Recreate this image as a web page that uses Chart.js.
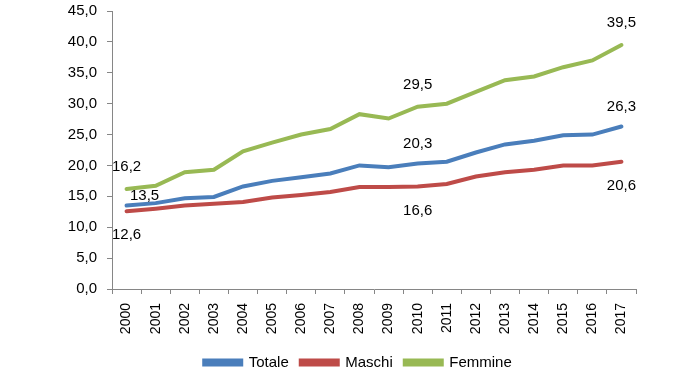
<!DOCTYPE html>
<html>
<head>
<meta charset="utf-8">
<script src="https://cdn.jsdelivr.net/npm/chart.js@4.4.0/dist/chart.umd.min.js"></script>
<style>
html,body{margin:0;padding:0;background:#fff;}
#wrap{width:700px;height:381px;position:relative;}
</style>
</head>
<body>
<div id="wrap"><canvas id="c" width="700" height="381"></canvas></div>
<script>
const years = ['2000','2001','2002','2003','2004','2005','2006','2007','2008','2009','2010','2011','2012','2013','2014','2015','2016','2017'];
const totale  = [13.5,13.9,14.7,14.9,16.6,17.5,18.1,18.7,20.0,19.7,20.3,20.6,22.1,23.4,24.0,24.9,25.0,26.3];
const maschi  = [12.6,13.0,13.5,13.8,14.1,14.8,15.2,15.7,16.5,16.5,16.6,17.0,18.2,18.9,19.3,20.0,20.0,20.6];
const femmine = [16.2,16.7,18.9,19.3,22.3,23.7,25.0,25.9,28.3,27.6,29.5,30.0,31.9,33.8,34.4,35.9,37.0,39.5];
const labelledIdx = [0, 10, 17];
const yTicks = [0,5,10,15,20,25,30,35,40,45];

const FONT = "'Liberation Sans Narrow','Arial Narrow','Liberation Sans',Arial,sans-serif";
const FS = 15;
const fmt = v => v.toFixed(1).replace('.', ',');

const labelPlugin = {
  id: 'valueLabels',
  afterLayout(chart) {
    // shift the legend row to sit centred as in the original
    chart.legend.left += 40;
    chart.legend.right += 40;
  },
  afterDatasetsDraw(chart) {
    const ctx = chart.ctx;
    ctx.save();
    ctx.font = FS + 'px ' + FONT;
    ctx.fillStyle = '#000';
    ctx.textAlign = 'center';
    ctx.textBaseline = 'middle';
    const offs = [-20, 24, -22]; // totale above, maschi below, femmine above
    chart.data.datasets.forEach((ds, di) => {
      const meta = chart.getDatasetMeta(di);
      labelledIdx.forEach(i => {
        const pt = meta.data[i];
        let dx = 0;
        let dy = offs[di];
        if (di === 0 && i === 0) { dx = 18; dy = -10; }
        ctx.fillText(fmt(ds.data[i]), pt.x + dx, pt.y + dy);
      });
    });
    ctx.restore();
  }
};

const axisColor = '#868686';

new Chart(document.getElementById('c'), {
  type: 'line',
  data: {
    labels: years,
    datasets: [
      { label: 'Totale', data: totale, borderColor: '#4A7EBB', backgroundColor: '#4A7EBB' },
      { label: 'Maschi', data: maschi, borderColor: '#BE4B48', backgroundColor: '#BE4B48' },
      { label: 'Femmine', data: femmine, borderColor: '#98B954', backgroundColor: '#98B954' }
    ]
  },
  options: {
    responsive: false,
    animation: false,
    devicePixelRatio: 1,
    layout: { padding: { left: 0, right: 64, top: 11, bottom: 1 } },
    elements: {
      line: { borderWidth: 4, tension: 0, borderCapStyle: 'round' },
      point: { radius: 0 }
    },
    plugins: {
      tooltip: { enabled: false },
      legend: {
        position: 'bottom',
        labels: {
          font: { family: FONT, size: FS },
          color: '#000',
          boxWidth: 37,
          boxHeight: 4,
          padding: 12
        }
      }
    },
    scales: {
      x: {
        offset: true,
        grid: { offset: true, drawOnChartArea: false, drawTicks: true, tickLength: 5, color: axisColor },
        border: { color: axisColor, width: 1 },
        ticks: { minRotation: 90, maxRotation: 90, padding: 9, color: '#000', font: { family: FONT, size: 14 } },
        afterFit(s) { s.height = 54; }
      },
      y: {
        min: 0, max: 45,
        afterBuildTicks(s) { s.ticks = yTicks.map(v => ({ value: v })); },
        grid: { drawOnChartArea: false, drawTicks: true, tickLength: 5, color: axisColor },
        border: { color: axisColor, width: 1 },
        ticks: { padding: 10, color: '#000', font: { family: FONT, size: FS }, callback: v => fmt(v) },
        afterFit(s) { s.width = 112; s.paddingTop = 0; s.paddingBottom = 0; }
      }
    }
  },
  plugins: [labelPlugin]
});
</script>
</body>
</html>
